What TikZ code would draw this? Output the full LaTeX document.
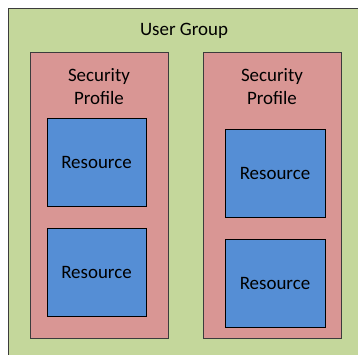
\documentclass[tikz,border=0pt]{standalone}
\usepackage{fontspec}
\setmainfont{Carlito}
\usepackage{tikz}
\usetikzlibrary{positioning}
\definecolor{groupfill}{RGB}{196,215,155}
\definecolor{profilefill}{RGB}{217,150,148}
\definecolor{resfill}{RGB}{85,142,213}
\definecolor{edge}{RGB}{60,60,60}

\tikzset{
  groupbox/.style={draw=edge,fill=groupfill,line width=0.8bp},
  profilebox/.style={draw=edge,fill=profilefill,line width=0.8bp,minimum width=138bp,minimum height=286bp,inner sep=0pt},
  resbox/.style={draw=black,fill=resfill,line width=0.8bp,minimum width=99bp,minimum height=88bp,inner sep=0pt,font=\fontsize{19}{23}\selectfont},
  lbl/.style={font=\fontsize{19}{23}\selectfont,align=center,inner sep=0pt}
}

\begin{document}
\begin{tikzpicture}[x=1bp,y=-1bp]
			\useasboundingbox (0,0) rectangle (358,355);
			\clip (0,0) rectangle (358,355);
			\draw[groupbox] (8,8) rectangle (370,370);
			\node[lbl] (group) at (184,31) {User Group};
			% left profile
			\node[profilebox] (prof1) at (99,195) {};
			\node[lbl] (prof1txt) at (99,86.5) {Security\\Profile};
			\node[resbox] (res11) at (96.5,162) {Resource};
			\node[resbox] (res12) at (96.5,272) {Resource};
			% right profile
			\node[profilebox] (prof2) at (272,195) {};
			\node[lbl] (prof2txt) at (272,86.5) {Security\\Profile};
			\node[resbox,minimum width=100bp] (res21) at (275,173) {Resource};
			\node[resbox,minimum width=100bp] (res22) at (275,283) {Resource};
		\end{tikzpicture}
\end{document}
